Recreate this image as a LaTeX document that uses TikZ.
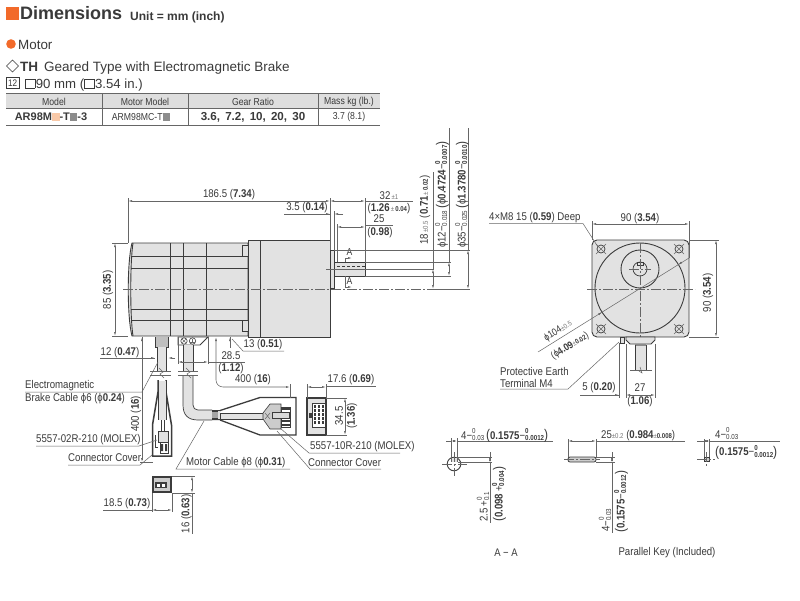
\documentclass[tikz,border=0pt]{standalone}
\usepackage{fontspec}
\usepackage{xcolor}
\setmainfont{Liberation Sans}
\newfontfamily\cond[FakeStretch=0.86]{Liberation Sans}
\usetikzlibrary{arrows.meta}
\definecolor{tx}{HTML}{3A3A3A}
\definecolor{ln}{HTML}{666666}
\definecolor{bodyc}{HTML}{3C3C3C}
\definecolor{fillc}{HTML}{E2E2E2}
\definecolor{orng}{HTML}{F26A2A}
\definecolor{peach}{HTML}{F9C9A8}
\newcommand{\dia}{ϕ}
\newcommand{\tinyf}{\fontsize{7}{7}\selectfont}
\newcommand{\tinyg}[1]{{\tinyf\textcolor{black!55}{#1}}}
\newcommand{\tolst}[2]{\rlap{\raisebox{0.95ex}{\fontsize{7.2}{7.2}\selectfont #1}}\raisebox{-0.25ex}{\fontsize{7.2}{7.2}\selectfont #2}}
\newcommand{\hsq}{{\setlength\fboxsep{0pt}\setlength\fboxrule{0.6pt}\fbox{\rule{0pt}{8.5pt}\rule{9pt}{0pt}}}}
\newcommand{\csq}[1]{\textcolor{#1}{\rule{7.5pt}{7.5pt}}}
\newcommand{\bigp}[1]{{\fontsize{14}{14}\selectfont\raisebox{-0.5pt}{#1}}}
\tikzset{
  x=1pt,y=-1pt,
  lab/.style={inner sep=0pt,text=tx,font=\cond\fontsize{11.2}{12.5}\selectfont},
  tablab/.style={inner sep=0pt,text=tx,font=\cond\fontsize{10.1}{12}\selectfont},
  labr/.style={lab,rotate=90},
  dim/.style={draw=ln,line width=0.55pt,{Latex[length=4pt,width=1.9pt]}-{Latex[length=4pt,width=1.9pt]}},
  dimend/.style={draw=ln,line width=0.55pt,-{Latex[length=4pt,width=1.9pt]}},
  thin line/.style={draw=ln,line width=0.5pt},
  part/.style={draw=bodyc,line width=0.9pt,fill=fillc},
  outl/.style={draw=bodyc,line width=0.9pt},
  center line/.style={draw=ln,line width=0.45pt,dash pattern=on 10pt off 2pt on 2pt off 2pt},
  heavy/.style={draw=bodyc,line width=1.5pt,fill=white},
}
\begin{document}
\begin{tikzpicture}
\useasboundingbox (0,0) rectangle (800,600);
\fill[white] (0,0) rectangle (800,600);
% ---------- header
\fill[orng] (6,7) rectangle (19,20);
\node[inner sep=0,anchor=base west,text=tx,font=\bfseries\fontsize{18}{20}\selectfont] (title) at (20,19.5) {Dimensions};
\node[inner sep=0,anchor=base west,text=tx,font=\bfseries\fontsize{12}{12}\selectfont] (unit) at (130,20) {Unit = mm (inch)};
\fill[orng] (11,44) circle (4.8pt);
\node[inner sep=0,anchor=base west,text=tx,font=\fontsize{13.4}{15}\selectfont] (motor) at (18,49) {Motor};
\draw[draw=tx,line width=0.6pt] (6.5,66) -- (12.5,60) -- (18.5,66) -- (12.5,72) -- cycle;
\node[inner sep=0,anchor=base west,text=tx,font=\fontsize{13.5}{15}\selectfont] (ttype) at (20,71) {\textbf{TH}\, Geared Type with Electromagnetic Brake};
\draw[draw=tx,line width=0.5pt] (6.5,77.5) rectangle (19,88);
\node[inner sep=0,text=tx,font=\cond\fontsize{9.5}{10}\selectfont] (box12) at (12.7,83) {12};
\node[inner sep=0,anchor=base west,text=tx,font=\fontsize{13.2}{15}\selectfont] (size) at (25,88) {\hsq\hspace{0.5pt}90 mm (\hsq\hspace{0.5pt}3.54 in.)};
% table
\fill[black!13] (6,93) rectangle (380,108);
\draw[draw=ln,line width=1pt] (6,93.5) -- (380,93.5);
\draw[draw=ln,line width=1pt] (6,108.5) -- (380,108.5);
\draw[draw=ln,line width=1pt] (6,125) -- (380,125);
\foreach \xx in {102,188,318} \draw[thin line] (\xx,93) -- (\xx,125);
\node[tablab] (h1) at (54,101.5) {Model};
\node[tablab] (h2) at (145,101.5) {Motor Model};
\node[tablab] (h3) at (253,101.5) {Gear Ratio};
\node[tablab] (h4) at (349,101.5) {Mass kg (lb.)};
\node[inner sep=0,text=tx,font=\bfseries\fontsize{11}{12}\selectfont] (c1) at (51,117) {AR98M\csq{peach}-T\csq{black!45}-3};
\node[tablab] (c2) at (141,117) {ARM98MC-T\csq{black!45}};
\node[inner sep=0,text=tx,font=\bfseries\fontsize{11.6}{12}\selectfont] (c3) at (253,117) {3.6,\, 7.2,\, 10,\, 20,\, 30};
\node[tablab] (c4) at (349,117) {3.7 (8.1)};
% ---------- motor side view
\draw[part] (132,243) .. controls (127,262) and (127,317) .. (132,336) -- (248,336) -- (248,243) -- cycle;
\draw[outl] (133,243) .. controls (130,262) and (130,317) .. (133,336);
\foreach \xx in {170,183,206} \draw[outl] (\xx,243) -- (\xx,336);
\draw[outl] (132,256) -- (242,256);
\draw[outl] (131,268) -- (248,268);
\draw[outl] (131,309) -- (248,309);
\draw[outl] (132,320) -- (242,320);
\draw[part] (242,245) rectangle (248,256);
\draw[part] (242,320) rectangle (248,331);
\draw[part] (248,240) rectangle (260,337);
\draw[part] (260,240) rectangle (330,337);
\draw[part] (330,250) rectangle (334,288);
\draw[part] (334,262) rectangle (365,276);
\draw[draw=bodyc,line width=0.5pt,densely dashed] (337,266) -- (365,266);
\draw[center line] (123,289) -- (433,289);
\draw[thin line] (326,269) -- (434,269);
% section marks
\draw[thin line] (345,258) -- (345,262) (345,276) -- (345,287);
\draw[dimend] (345,258) -- (352,258);
\draw[dimend] (345,287) -- (352,287);
\node[lab,font=\cond\fontsize{10}{11}\selectfont] (a1) at (349.5,252.5) {A};
\node[lab,font=\cond\fontsize{10}{11}\selectfont] (a2) at (349.5,281) {A};
% dims above
\draw[thin line] (128,198) -- (128,243);
\draw[thin line] (330,198) -- (330,250);
\draw[thin line] (334,211) -- (334,250);
\draw[thin line] (365,198) -- (365,262);
\draw[thin line] (337,224) -- (337,262);
\draw[dim] (128,201) -- (330,201);
\node[lab] (d186) at (229,195) {186.5 (\textbf{7.34})};
\draw[dim] (330,201) -- (365,201);
\draw[thin line] (365,201) -- (413,201);
\node[lab] (d32) at (389,196) {32\tinyg{\,±1}};
\node[lab] (d126) at (389,209) {(\textbf{1.26}\tinyg{\,±}\textbf{\tinyf\,0.04})};
\draw[thin line] (284,214) -- (330,214);
\draw[dimend] (321,214) -- (330,214);
\draw[dimend] (343,214) -- (334,214);
\node[lab] (d35) at (307,207.5) {3.5 (\textbf{0.14})};
\draw[dim] (337,227) -- (365,227);
\draw[thin line] (365,225) -- (393,225);
\node[lab] (d25) at (379,219) {25};
\node[lab] (d098) at (380,233) {(\textbf{0.98})};
% dims right
\draw[thin line] (334,250) -- (470,250);
\draw[thin line] (365,262) -- (451,262);
\draw[thin line] (365,276) -- (451,276);
\draw[thin line] (433,172) -- (433,269);
\draw[dim] (433,269) -- (433,289);
\node[labr] (d18) at (425,210) {18\tinyg{\,±0.5} (\textbf{0.71}\tinyg{\,±}\textbf{\tinyf\,0.02})};
\draw[thin line] (449,128) -- (449,262);
\draw[dim] (449,262) -- (449,276);
\node[labr,anchor=west] (d12) at (442,248) {\dia12−\tolst{0}{0.018}\,\bigp{(}\dia\textbf{0.4724}−\tolst{\textbf{0}}{\textbf{0.0007}}\bigp{)}};
\draw[thin line] (468,128) -- (468,250);
\draw[dim] (468,250) -- (468,289);
\draw[thin line] (433,289) -- (470,289);
\node[labr,anchor=west] (d35b) at (462,248) {\dia35−\tolst{0}{0.025}\,\bigp{(}\dia\textbf{1.3780}−\tolst{\textbf{0}}{\textbf{0.0010}}\bigp{)}};
% 85
\draw[thin line] (112,243) -- (128,243);
\draw[thin line] (112,336) -- (128,336);
\draw[dim] (115,243) -- (115,336);
\node[labr] (d85) at (108,290) {85 (\textbf{3.35})};
% terminal box
\draw[part,fill=white] (178,337) -- (178,345) -- (200,345) -- (208,337) -- cycle;
\draw[outl,line width=0.6pt] (184,341) circle (3.2pt);
\draw[outl,line width=0.6pt] (192.5,341) circle (3.2pt);
\draw[thin line] (181.8,339) -- (186.2,343) (181.8,343) -- (186.2,339);
\draw[thin line] (192.5,339) -- (192.5,343) (190,342) -- (195,342);
% motor cable
\fill[fillc] (183,345) rectangle (193,372);
\fill[fillc] (183,376) -- (183,405) .. controls (183,415) and (188,420) .. (198,420) -- (212,420) -- (212,410) -- (198,410) .. controls (195,410) and (193,408) .. (193,405) -- (193,376) -- cycle;
\draw[outl,line width=0.7pt] (183,345) -- (183,372) (193,345) -- (193,372);
\draw[outl,line width=0.7pt] (183,376) -- (183,405) .. controls (183,415) and (188,420) .. (198,420) -- (212,420);
\draw[outl,line width=0.7pt] (193,376) -- (193,405) .. controls (193,408) and (195,410) .. (198,410) -- (212,410);
% brake cable
\fill[black!25] (155,337) rectangle (168,347);
\draw[outl,line width=0.7pt] (155,337) -- (155,347) -- (168,347) -- (168,337);
\fill[fillc] (157,347) rectangle (166,372);
\draw[outl,line width=0.7pt] (157,347) -- (157,372) (166,347) -- (166,372);
% break marks
\draw[thin line] (150,371) -- (171,371) (150,375) -- (171,375);
\draw[thin line] (178,371) -- (198,371) (178,375) -- (198,375);
\draw[thin line] (159,368) -- (163,372) -- (160,374) -- (164,378);
\draw[thin line] (186,368) -- (190,372) -- (187,374) -- (191,378);
% brake connector cover
\draw[heavy] (158,380) -- (158,392) -- (152.5,425) -- (152.5,456) -- (171.5,456) -- (171.5,425) -- (166,392) -- (166,380);
\fill[fillc] (158,381) rectangle (166,420);
\draw[outl,line width=0.6pt] (158,380) -- (158,420) (166,380) -- (166,420);
\draw[outl,line width=0.6pt] (161,420) -- (161,431) (164,420) -- (164,431);
\draw[outl,line width=0.7pt,fill=fillc] (158,431) rectangle (168,442);
\draw[outl,line width=0.7pt,fill=white] (160,442) rectangle (168,453);
\fill[bodyc] (161,444) rectangle (163,451) (165,444) rectangle (167,451);
\draw[outl,line width=0.6pt] (155,435) -- (155,447) -- (158,447);
% brake small view
\draw[draw=bodyc,line width=1.6pt,fill=black!20] (153,477) rectangle (171,492);
\fill[bodyc] (155,482) rectangle (167,488);
\foreach \xx in {157,162} \fill[white] (\xx,483.5) rectangle ++(3,3);
% motor connector cover
\draw[outl,line width=1.3pt,fill=white] (220,410.5) -- (260,397.5) -- (296,397.5) -- (296,435) -- (260,435) -- (220,420);
\fill[bodyc] (212,410) rectangle (220,412) (212,418) rectangle (220,420);
\fill[black!35] (212,412) rectangle (220,418);
\draw[outl,line width=0.8pt,fill=fillc] (220,413) -- (263,413) -- (263,419) -- (220,419) -- cycle;
\fill[fillc] (218,411) rectangle (220,419);
\draw[outl,line width=0.6pt,fill=black!20] (263,413) -- (270,404) -- (281,404) -- (281,429) -- (270,429) -- (263,419) -- cycle;
\draw[outl,line width=0.6pt,fill=white] (281,407) rectangle (290,427);
\foreach \yy in {408,412,416,420,424} \fill[bodyc] (282,\yy) rectangle (290,\yy+2);
\draw[outl,line width=0.6pt,fill=black!15] (272,412) rectangle (289,418);
\draw[thin line] (265,413) -- (270,419) (265,419) -- (270,413);
% motor connector front view
\draw[draw=bodyc,line width=1.2pt,fill=fillc] (307,398) rectangle (326,435);
\draw[outl,line width=0.8pt,fill=white] (312,403) rectangle (325,427);
\foreach \yy in {405,409,413,417,421} \foreach \xx in {314,318,322} \fill[bodyc] (\xx,\yy) rectangle ++(2.4,3);
\fill[bodyc] (309,413) rectangle (312,418);
% 12 dim
\draw[thin line] (100,358) -- (155,358);
\draw[dimend] (147,358) -- (155,358);
\draw[dimend] (175,358) -- (168,358);
\node[lab] (d12b) at (120,352.5) {12 (\textbf{0.47})};
% 13 dim
\draw[thin line] (230,337) -- (230,348);
\draw[dimend] (230,343) -- (230,337);
\draw[thin line] (232,339) -- (243,351) -- (284,351);
\node[lab] (d13) at (263,345) {13 (\textbf{0.51})};
% 28.5
\draw[thin line] (178,337) -- (178,364) (208,337) -- (208,364);
\draw[dim] (178,362) -- (208,362);
\draw[thin line] (208,362) -- (245,362);
\node[lab] (d285) at (231,356) {28.5};
\node[lab] (d112) at (231,369) {(\textbf{1.12})};
% 400 motor
\draw[draw=ln,line width=0.55pt,{Latex[length=4pt,width=1.9pt]}-{Latex[length=4pt,width=1.9pt]},rounded corners=7pt] (216,337) -- (216,387) -- (290,387);
\draw[thin line] (290,384) -- (290,398);
\node[lab] (d400m) at (253,380) {400 (\textbf{16})};
% 400 brake
\draw[thin line] (142,337) -- (142,460);
\draw[dimend] (142,345) -- (142,337);
\draw[dimend] (142,452) -- (142,462);
\draw[thin line] (140,462) -- (153,462);
\node[labr] (d400b) at (136,414) {400 (\textbf{16})};
% cable labels
\node[lab,anchor=west] (em1) at (25,386) {Electromagnetic};
\node[lab,anchor=west] (em2) at (25,399) {Brake Cable \dia6 (\dia\textbf{0.24})};
\draw[thin line] (25,392) -- (142,392) -- (158,362);
\node[lab,anchor=west] (mx2) at (36,440) {5557-02R-210 (MOLEX)};
\draw[thin line] (36,446) -- (139,446) -- (157,440);
\node[lab,anchor=west] (cc1) at (68,458) {Connector Cover};
\draw[thin line] (68,465) -- (140,465) -- (152,455);
% brake small dims
\draw[thin line] (152,493) -- (152,512) (172,493) -- (172,512);
\draw[dim] (152,510) -- (172,510);
\draw[thin line] (103,510) -- (152,510);
\node[lab] (d185) at (127,504) {18.5 (\textbf{0.73})};
\draw[thin line] (172,476) -- (195,476) (172,493) -- (195,493);
\draw[dim] (192,476) -- (192,493);
\draw[thin line] (192,493) -- (192,534);
\node[labr] (d16) at (186.5,514) {16 (\textbf{0.63})};
% motor cable labels
\draw[thin line] (204,421) -- (176,469) -- (290,469);
\node[lab,anchor=west] (mc) at (186,463) {Motor Cable \dia8 (\dia\textbf{0.31})};
\draw[thin line] (277,431) -- (310,469) -- (381,469);
\node[lab,anchor=west] (cc2) at (308,463) {Connector Cover};
\draw[thin line] (280,428) -- (309,453) -- (400,453);
\node[lab,anchor=west] (mx10) at (310,447) {5557-10R-210 (MOLEX)};
% connector dims
\draw[thin line] (307,384) -- (307,398) (326,384) -- (326,398);
\draw[dim] (307,387) -- (326,387);
\draw[thin line] (326,386) -- (376,386);
\node[lab] (d176) at (351,380) {17.6 (\textbf{0.69})};
\draw[thin line] (326,398) -- (347,398) (326,435) -- (347,435);
\draw[dim] (345,398) -- (345,435);
\node[labr] (d345) at (339,416) {34.5};
\node[labr] (d136) at (352,416) {(\textbf{1.36})};
% ---------- front view
\draw[part,rounded corners=5pt] (592,240) rectangle (689,337);
\draw[outl] (640,288) circle (45pt);
\draw[outl] (640,269) circle (19pt);
\draw[outl,line width=0.7pt] (640,269) circle (7pt);
\draw[outl,line width=0.6pt] (637,262.5) rectangle (643,265);
\foreach \xx/\yy in {601/249,679/249,601/329,679/329}{
  \draw[outl,line width=0.7pt] (\xx,\yy) circle (4pt);
  \draw[thin line] (\xx-5,\yy-5) -- (\xx+5,\yy+5) (\xx-5,\yy+5) -- (\xx+5,\yy-5);
}
\draw[center line] (587,289) -- (695,289);
\draw[center line] (640,243) -- (640,345);
\draw[center line] (629,269) -- (651,269);
% bottom parts
\draw[part] (620,337) rectangle (624,343);
\draw[part] (626,337) -- (655,337) -- (655,340) -- (651,344) -- (630,344) -- (626,340) -- cycle;
\fill[black!45] (635,344) rectangle (646,346);
\fill[fillc] (635,346) rectangle (646,370);
\draw[outl,line width=0.7pt] (635,345) -- (635,370) (646,345) -- (646,370);
\draw[thin line] (630,370) -- (652,370);
\draw[thin line] (640,367) -- (642,373) -- (639,371);
% front dims
\draw[thin line] (592,221) -- (592,240) (689,221) -- (689,258);
\draw[dim] (592,224) -- (689,224);
\node[lab] (d90t) at (640,218.5) {90 (\textbf{3.54})};
\draw[thin line] (689,240) -- (719,240) (689,337) -- (719,337);
\draw[dim] (716,240) -- (716,337);
\node[labr] (d90r) at (708,293) {90 (\textbf{3.54})};
\draw[thin line] (538,352) -- (689,258);
\draw[dimend] (600,313.5) -- (602,312.2);
\draw[dimend] (680,263.5) -- (678.3,264.7);
\node[lab,rotate=32,font=\cond\fontsize{10}{11}\selectfont] (d104) at (558,331) {\dia104\tinyg{±0.5}};
\node[lab,rotate=32,font=\cond\fontsize{10}{11}\selectfont] (d409) at (570,346) {(\dia\textbf{4.09}\tinyg{±}\textbf{\tinyf 0.02})};
\node[lab,anchor=west] (m8) at (489,218) {4×M8 15 (\textbf{0.59}) Deep};
\draw[thin line] (489,223.5) -- (583,223.5) -- (598,247);
\node[lab,anchor=west] (pe1) at (500,371) {Protective Earth};
\node[lab,anchor=west] (pe2) at (500,383) {Terminal M4};
\draw[thin line] (500,389) -- (568,389) -- (619,342);
\draw[thin line] (619,343) -- (619,398) (626,344) -- (626,398) (655,344) -- (655,398);
\draw[thin line] (580,395) -- (619,395);
\draw[dimend] (612,395) -- (619,395);
\draw[dim] (626,395) -- (655,395);
\node[lab] (d5) at (599,388) {5 (\textbf{0.20})};
\node[lab] (d27) at (640,388) {27};
\node[lab] (d106) at (640,402) {(\textbf{1.06})};
% ---------- A-A
\draw[thin line] (446,441) -- (451,441);
\draw[thin line] (457,441) -- (553,441);
\draw[dim] (451,441) -- (457,441);
\draw[outl] (454,464) circle (6.8pt);
\fill[fillc] (451,458) rectangle (458,462);
\draw[center line] (442,464) -- (467,464);
\draw[center line] (454,452) -- (454,476);
\draw[thin line] (451,438) -- (451,462) (457,438) -- (457,462);
\draw[thin line] (458,457) -- (492,457) (458,462) -- (492,462);
\draw[thin line] (490,452) -- (490,457);
\draw[dim] (490,457) -- (490,462);
\draw[thin line] (490,462) -- (490,523);
\node[lab,anchor=base west] (aa4) at (461,439) {4−\tolst{0}{0.03}\,\bigp{(}\textbf{0.1575}−\tolst{\textbf{0}}{\textbf{0.0012}}\bigp{)}};
\node[labr,anchor=west] (aa25) at (483,522) {2.5\,+\tolst{0}{0.1}};
\node[labr,anchor=west] (aa098) at (499,522) {\bigp{(}\textbf{0.098}\,+\tolst{\textbf{0}}{\textbf{0.004}}\bigp{)}};
\node[lab,font=\cond\fontsize{11}{12}\selectfont] (aal) at (506,553) {A − A};
% ---------- parallel key side
\draw[part,rounded corners=2pt,line width=0.8pt,fill=black!20] (568,457) rectangle (596,462);
\draw[center line] (564,459.5) -- (600,459.5);
\draw[thin line] (568,439) -- (568,457) (596,439) -- (596,457);
\draw[dim] (568,441) -- (596,441);
\draw[thin line] (596,441) -- (685,441);
\node[lab,anchor=base west] (k25) at (601,438) {25\tinyg{±0.2} (\textbf{0.984}\tinyg{±}\textbf{\tinyf 0.008})};
\draw[thin line] (596,457) -- (615,457) (596,462) -- (615,462);
\draw[thin line] (612,452) -- (612,457);
\draw[dim] (612,457) -- (612,462);
\draw[thin line] (612,462) -- (612,533);
\node[labr,anchor=west] (k4) at (605,532) {4−\tolst{0}{0.03}};
\node[labr,anchor=west] (k1575) at (621,533) {\bigp{(}\textbf{0.1575}−\tolst{\textbf{0}}{\textbf{0.0012}}\bigp{)}};
% ---------- parallel key end
\draw[outl,line width=0.7pt,fill=black!20] (704,457) rectangle (709,461);
\draw[center line] (697,459) -- (715,459);
\draw[center line] (706.5,452) -- (706.5,466);
\draw[thin line] (704,439) -- (704,457) (709,439) -- (709,457);
\draw[thin line] (697,441) -- (704,441);
\draw[dim] (704,441) -- (709,441);
\draw[thin line] (709,441) -- (780,441);
\node[lab,anchor=base west] (ke4) at (715,438.5) {4−\tolst{0}{0.03}};
\node[lab,anchor=west] (ke15) at (715,452) {\bigp{(}\textbf{0.1575}−\tolst{\textbf{0}}{\textbf{0.0012}}\bigp{)}};
\node[lab] (pk) at (667,553) {Parallel Key (Included)};
\end{tikzpicture}
\end{document}
